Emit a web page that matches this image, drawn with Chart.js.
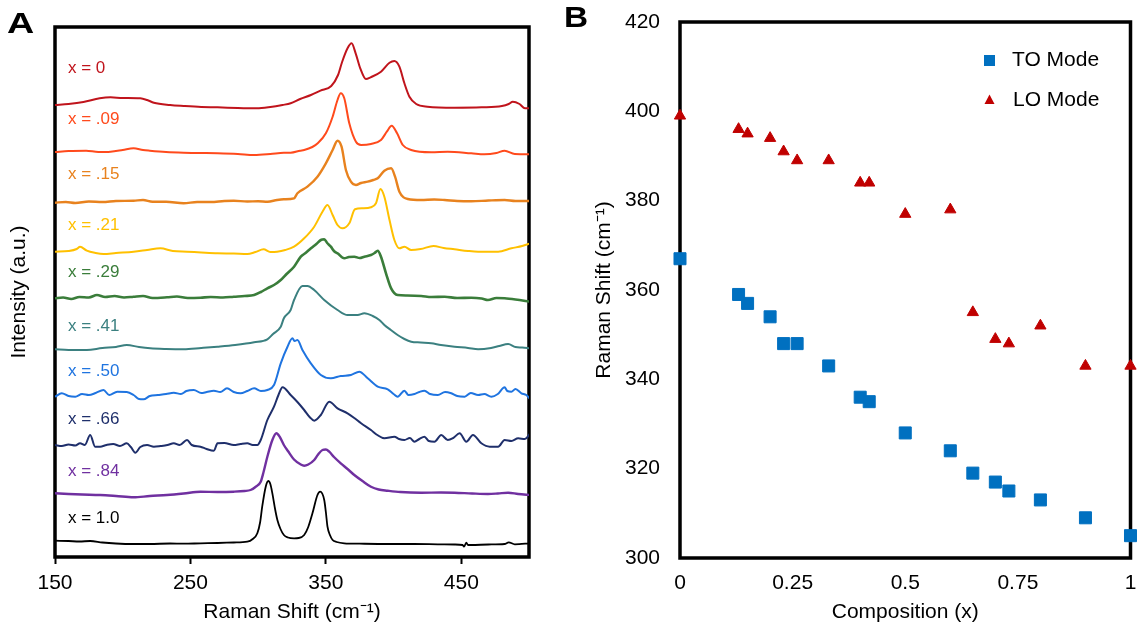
<!DOCTYPE html>
<html lang="en">
<head>
<meta charset="UTF-8">
<title>Raman spectra and phonon mode shifts</title>
<script src="https://cdn.jsdelivr.net/npm/chart.js@4"></script>
<style>
  body { margin: 0; background: #fff; }
  #wrap { position: relative; width: 1140px; height: 629px; }
  #chartA { position: absolute; left: 0; top: 0; }
  #chartB { position: absolute; left: 560px; top: 0; }
</style>
</head>
<body>
<div id="wrap">
  <canvas id="chartA" width="545" height="629"></canvas>
  <canvas id="chartB" width="580" height="629"></canvas>
</div>
<script>
const FONT = "'Liberation Sans', Arial, sans-serif";

// ---- Panel A: stacked Raman spectra, [shift (cm-1), intensity (a.u., offset included)]
const spectrumX0 = [[150,452],[160,453],[171,455],[183,458.7],[191,459.7],[200,459],[213,458.7],[218,457],[223,454.3],[235,452],[245,451],[258,450],[270,449.7],[285,449],[299,448.7],[309,450],[318,452],[324,453.7],[331,458],[339,462],[346,466.3],[354,471],[359,482],[362,495],[366,508.7],[369,513.7],[372,503.7],[375.4,488.7],[379.6,478],[383,479.7],[390.7,485.3],[397,494.3],[400.6,496],[404.3,490.3],[408,473.7],[411.7,460.3],[416.7,453],[425,450.3],[445,449.3],[465,449.7],[480,451],[485,453],[488,455.3],[493,453],[497,448.7],[501,448.7]];
const spectrumX09 = [[150,405],[160,406],[173,406.3],[182,405],[191,405.3],[200,407],[208,408.7],[215,407],[220,406.3],[232,405],[245,404.3],[258,404],[270,403.7],[285,403],[297,402],[309,403],[319,404.3],[324,404.3],[331,406.3],[334,407],[340,410],[344,413.7],[350,423.7],[355,440.3],[358.6,457],[361,463.7],[363.6,458.7],[367.3,433.7],[372.2,415.3],[376,412],[383.3,413],[390.7,417],[395,425.3],[398.6,431.3],[402.6,423.7],[406.8,412],[413,407],[427.8,404.7],[440,405.3],[457.4,403.7],[467,402.7],[476,404],[482,406.3],[489.5,403],[501,402.7]];
const spectrumX15 = [[150,354.3],[158,355],[165,354],[175,355.5],[185,355],[195,356],[208,356.3],[215,357],[222,355.3],[232,355.3],[245,353.7],[255,355],[265,355],[275,356],[282,356.3],[292,355.5],[300,355.8],[307,355.3],[314,357],[319,357.7],[326.5,358.7],[329,363.7],[336.4,370.3],[343.8,380.3],[350,393.7],[355,407],[358.6,416.3],[361.6,410.3],[364.8,387],[368.5,375.3],[372.2,372],[376,374],[380.9,375.3],[385,377],[388.3,378.7],[393.2,386.3],[398.2,388.7],[401.1,380.3],[404.3,365.3],[410.5,358],[420.4,357],[430,357.5],[437.7,357],[447,356],[457.4,355.7],[470,356.5],[482,357],[490,356],[501,356]];
const spectrumX21 = [[150,305.3],[160,306],[166,308],[168.5,310.3],[173.5,306.3],[180,304],[185.8,303],[195,304],[208,305.3],[218,307],[227.8,308.7],[237,306],[247.5,305.3],[258,304.5],[270,303.7],[282,303.5],[292,303],[298,305],[304,307.7],[309,305],[314,305.3],[320,307],[326.5,310.3],[334,318.7],[341.4,330.3],[347.5,345.3],[351.2,352],[355,342],[358.6,332],[362.3,328.7],[367.3,333.7],[371.5,347.7],[377.2,348.7],[383.3,349.7],[387,353.7],[390.3,368],[393.2,360.3],[397,337],[400.6,317],[404.3,308.7],[408,310.3],[413,307],[420,308],[429.5,311],[437,309],[445,307.7],[455,306],[462.4,305.3],[477.2,305.3],[487,308.7],[495,311],[501,313.7]];
const spectrumX29 = [[150,258.7],[156,259.5],[162,258],[168,260],[175,259.5],[181,262],[187,260],[194,261],[201,259.5],[208,260.3],[215,261],[222,259],[232.7,259.7],[240,260.5],[248,259],[257.4,259.3],[265,260],[274,259.5],[282,260.3],[290,261],[297,262],[302,265],[306.8,268.7],[311.7,272],[316.7,277],[321,283],[326.5,290.3],[331.5,300.3],[335,304],[339,308.7],[343,313],[346.3,317],[348.8,317.7],[351,314],[353.7,310.3],[356,306],[358.6,303.7],[363.6,298.7],[367,300],[371,300.3],[375,299],[378.4,300.3],[383.3,302],[386,304],[388.3,306.3],[390.7,300.3],[394.4,283.7],[398.2,268.7],[403,262],[410,261.5],[420.4,261],[428,260],[437.7,260.3],[447,259],[457.4,259.3],[465,258.5],[469.7,257],[476,259],[482,258.7],[490,257.5],[501,255.3]];
const spectrumX41 = [[150,207.7],[160,207],[173.5,207],[185,209],[195,210],[203,212],[212,210],[220.4,208.7],[232,208],[245,207.7],[258,209],[270,210.3],[283,212],[297,214.7],[306.8,217.7],[311,223],[316.7,230.3],[319,238.7],[324,247],[326.5,257],[332.7,271],[336.4,271],[341.4,267],[348.8,257],[358.6,247],[366,242],[371,242],[373.5,242],[378.4,243.7],[384.6,241],[389.5,237],[393.2,232],[398,227],[403,222],[408,218],[413,215.3],[420,214.5],[427.8,213.7],[435,212],[445,210.3],[455,209],[462.4,207.7],[472,209],[478,211],[484.6,213],[490,210],[495,209.5],[501,208.7]];
const spectrumX50 = [[150,160.3],[155,163.7],[160,161],[165,160.3],[170,163],[175,162],[180,164],[185.8,167],[190,162],[196,165.3],[203,165],[208,162],[212,158],[215.4,157.7],[220,161],[226,162],[232,163],[237.7,164.3],[243,163],[247,166],[252.5,167],[258,164],[262,165],[267.3,166.3],[272,165],[277,168.7],[282,165],[287,163.7],[292,166],[297,168.7],[302,166],[306.8,167],[311.7,172],[316.7,193.7],[321.6,210],[325.3,218.7],[327,216],[329,217],[332.7,207],[338.9,193.7],[346.3,182],[353.7,178.7],[361,181],[368.5,182],[374.7,185.3],[380.9,178.7],[388.3,170.3],[395.7,167.7],[400,163],[403,160.3],[408,166.3],[411,162],[415.4,163],[419,165],[422.8,166.3],[427,163],[432.7,162],[438,165],[442.6,163.7],[447,161],[452.5,160.3],[457,164],[462.4,162],[467,163],[472.2,160.3],[477,163],[482,169.7],[484,166],[487,165.3],[490,168],[494.4,163.7],[498,162],[501,157.7]];
const spectrumX66 = [[150,112],[155,111],[160,112.5],[165,111.5],[168.5,113.7],[172,112],[176,122],[179.6,110.3],[183.3,110.3],[188,112],[193,113],[198,111],[203,113.7],[206,110],[209.3,104.3],[213,110],[218,112],[223,110.3],[228,111],[233,112],[237.7,113.7],[242,112],[247.5,117],[251,112],[257.4,110.3],[262,108],[267.3,106.3],[270,113.7],[275,114],[282,112],[287,113],[292,113.7],[296,112],[299.4,112],[301.9,117],[306.8,137],[311.7,150.3],[315,162],[318,169.7],[324,162],[329,155],[334,147],[338,140],[341.4,136.3],[346.3,142],[352.5,155.3],[358.6,148.7],[366,143.7],[371,139],[376,133.7],[383.3,127],[388,122],[393.2,118.7],[400.6,120.3],[404,118],[408,117],[412,119],[415.4,115.3],[419,118],[422.8,120.3],[426,116],[430.2,115.3],[435.2,122],[440,117],[444,119],[448.8,123.7],[453.7,115.3],[458.6,122],[464.8,113.7],[471,110.3],[477.2,110.3],[482,117],[487,116],[492,118.7],[497,118],[501,123.7]];
const spectrumX84 = [[150,63.7],[160,63],[170,62.5],[183.3,62],[195,61],[208,59.7],[220,61],[232.7,62],[245,63.5],[257.4,65.3],[270,65],[282,65.3],[290,66],[294.4,67],[298,70],[301.9,75.3],[304,85],[306.8,100.3],[310.5,117],[313.5,123.7],[316,120],[319,112],[322,106],[326.5,97.5],[331.5,92.5],[334,91.3],[337,92.5],[341.4,97],[344,102],[347.5,107],[350,107.5],[352.5,105.3],[356,100],[361,93.7],[366,88],[371,82],[377,76],[383.3,70.3],[389,67.5],[395.7,66.3],[405,65],[420.4,64.3],[435,64.5],[445,64.3],[458,63.5],[469.7,63],[477,63.5],[484.6,64.3],[492,63],[501,62]];
const spectrumX100 = [[150,16.3],[160,16],[168,15.5],[176,16],[185,14.5],[195,13.5],[208,13],[220,13],[235,13.5],[245,13.3],[257.4,13.7],[270,14],[282,14.5],[292,15.3],[296,18],[299.4,23.7],[301.5,35],[303,50.3],[305.6,70.3],[307.5,76],[309,73],[310.5,63.7],[312.5,48],[314.2,37],[316.5,28],[319,22],[322,19.5],[326.5,18.7],[330,19],[334,22],[337,30],[340.1,43.7],[343.8,62],[345.8,65.3],[348.8,57],[350,45],[351.2,30.3],[353,22],[355,17],[358,15],[363.6,13.7],[375,13.3],[395.7,13],[415,13],[432.7,12.7],[445,12.5],[451,12],[452,10.3],[453.7,14.3],[455,12],[457.4,12],[470,12.5],[482,13],[485,14.7],[489.5,12.7],[501,13.7]];

const spectra = [spectrumX0, spectrumX09, spectrumX15, spectrumX21, spectrumX29,
                 spectrumX41, spectrumX50, spectrumX66, spectrumX84, spectrumX100];
const spectrumLabels = ['x = 0', 'x = .09', 'x = .15', 'x = .21', 'x = .29',
                        'x = .41', 'x = .50', 'x = .66', 'x = .84', 'x = 1.0'];
const shiftTicks = [150, 250, 350, 450];

// ---- Panel B: mode positions vs composition
const compositionTO = [0, 0.13, 0.15, 0.2, 0.23, 0.26, 0.33, 0.4, 0.42, 0.5, 0.6, 0.65, 0.7, 0.73, 0.8, 0.9, 1.0];
const shiftTO = [367, 359, 357, 354, 348, 348, 343, 336, 335, 328, 324, 319, 317, 315, 313, 309, 305];
const compositionLO = [0, 0.13, 0.15, 0.2, 0.23, 0.26, 0.33, 0.4, 0.42, 0.5, 0.6, 0.65, 0.7, 0.73, 0.8, 0.9, 1.0];
const shiftLO = [399, 396, 395, 394, 391, 389, 389, 384, 384, 377, 378, 355, 349, 348, 352, 343, 343];
const compositionTicks = [0, 0.25, 0.5, 0.75, 1];
const compositionTickLabels = ['0', '0.25', '0.5', '0.75', '1'];

// styles
const spectrumColors = ['#C0141C', '#FF4A1C', '#E8821E', '#FFC000', '#3A7D3A',
                        '#3B8080', '#1F74E0', '#1F2F6B', '#7030A0', '#000000'];
const spectrumWidths = [2, 2, 2.4, 2, 2.6, 2, 2, 2, 2.4, 1.8];
const labelLift = [37, 33, 28, 26, 26, 23, 25, 26, 22, 22];   // px above trace start

// fixed axis sizes, no extra side padding from edge labels
function fixSize(w, h) {
  return s => {
    if (w !== null) s.width = w;
    if (h !== null) s.height = h;
    s.paddingLeft = 0; s.paddingRight = 0; s.paddingTop = 0; s.paddingBottom = 0;
  };
}

// thick box round the plot area
const framePlugin = {
  id: 'frame',
  beforeDatasetsDraw(chart, args, opts) {
    const { ctx, chartArea: a } = chart;
    ctx.save();
    ctx.lineWidth = opts.width || 3.5;
    ctx.strokeStyle = '#000';
    ctx.strokeRect(a.left, a.top, a.right - a.left, a.bottom - a.top);
    ctx.restore();
  }
};

// big panel letter (A / B)
const letterPlugin = {
  id: 'letter',
  afterDraw(chart, args, opts) {
    const ctx = chart.ctx;
    ctx.save();
    ctx.translate(opts.x, opts.y);
    ctx.scale(opts.stretch, 1);
    ctx.font = 'bold 29px ' + FONT;
    ctx.fillStyle = '#000';
    ctx.textBaseline = 'alphabetic';
    ctx.fillText(opts.text, 0, 0);
    ctx.restore();
  }
};

// composition labels above each spectrum
const sampleLabelPlugin = {
  id: 'sampleLabels',
  afterDatasetsDraw(chart) {
    const ctx = chart.ctx;
    ctx.save();
    ctx.font = '17px ' + FONT;
    ctx.textBaseline = 'middle';
    ctx.textAlign = 'left';
    chart.data.datasets.forEach((ds, i) => {
      const first = chart.getDatasetMeta(i).data[0];
      ctx.fillStyle = ds.borderColor;
      ctx.fillText(ds.label, 68, first.y - labelLift[i]);
    });
    ctx.restore();
  }
};

// legend inside panel B (top right)
const legendBoxPlugin = {
  id: 'legendBox',
  afterDraw(chart) {
    const ctx = chart.ctx;
    const ds = chart.data.datasets;
    ctx.save();
    ctx.font = '21px ' + FONT;
    ctx.textBaseline = 'middle';
    ctx.fillStyle = ds[0].backgroundColor;
    ctx.fillRect(424, 55, 11, 11);
    ctx.fillStyle = ds[1].backgroundColor;
    ctx.beginPath();
    ctx.moveTo(429.5, 94.5);
    ctx.lineTo(434.5, 104);
    ctx.lineTo(424.5, 104);
    ctx.closePath();
    ctx.fill();
    ctx.fillStyle = '#000';
    ctx.fillText(ds[0].label, 452, 60);
    ctx.fillText(ds[1].label, 453, 100);
    ctx.restore();
  }
};

Chart.defaults.font.family = FONT;
Chart.defaults.color = '#000';

new Chart(document.getElementById('chartA'), {
  type: 'line',
  data: {
    datasets: spectra.map((s, i) => ({
      label: spectrumLabels[i],
      data: s,
      borderColor: spectrumColors[i],
      borderWidth: spectrumWidths[i],
      pointRadius: 0,
      cubicInterpolationMode: 'monotone',
      fill: false
    }))
  },
  options: {
    responsive: false,
    animation: false,
    events: [],
    layout: { padding: { left: 0, top: 27, right: 16, bottom: 0 } },
    scales: {
      x: {
        type: 'linear',
        min: 150,
        max: 500,
        afterBuildTicks: s => { s.ticks = shiftTicks.map(v => ({ value: v })); },
        afterFit: fixSize(null, 72),
        grid: { display: true, drawOnChartArea: false, drawTicks: true, tickLength: 7, tickWidth: 2, tickColor: '#000' },
        border: { display: false },
        ticks: { font: { size: 21 }, padding: 7, maxRotation: 0 },
        title: { display: true, text: 'Raman Shift (cm\u207B\u00B9)', font: { size: 21 }, padding: { top: 0, bottom: 4 } }
      },
      y: {
        min: 0,
        max: 530,
        afterFit: fixSize(55, null),
        grid: { display: false },
        border: { display: false },
        ticks: { display: false },
        title: { display: true, text: 'Intensity (a.u.)', font: { size: 21 }, padding: { top: 7, bottom: 0 } }
      }
    },
    plugins: {
      legend: { display: false },
      tooltip: { enabled: false },
      frame: { width: 3.5 },
      letter: { text: 'A', x: 7, y: 33, stretch: 1.3 }
    }
  },
  plugins: [framePlugin, letterPlugin, sampleLabelPlugin]
});

new Chart(document.getElementById('chartB'), {
  type: 'scatter',
  data: {
    datasets: [
      {
        label: 'TO Mode',
        data: compositionTO.map((x, i) => ({ x: x, y: shiftTO[i] })),
        pointStyle: 'rect',
        pointRadius: 8.5,
        backgroundColor: '#0070C0',
        borderColor: '#0070C0',
        borderWidth: 1,
        clip: false
      },
      {
        label: 'LO Mode',
        data: compositionLO.map((x, i) => ({ x: x, y: shiftLO[i] })),
        pointStyle: 'triangle',
        pointRadius: 6.5,
        backgroundColor: '#C00000',
        borderColor: '#C00000',
        borderWidth: 1,
        clip: false
      }
    ]
  },
  options: {
    responsive: false,
    animation: false,
    events: [],
    layout: { padding: { left: 0, top: 22, right: 2.5, bottom: 0 } },
    scales: {
      x: {
        type: 'linear',
        min: 0,
        max: 1,
        afterBuildTicks: s => { s.ticks = compositionTicks.map(v => ({ value: v })); },
        afterFit: fixSize(null, 71),
        grid: { display: false, drawTicks: false },
        border: { display: false },
        ticks: {
          font: { size: 21 }, padding: 13, maxRotation: 0,
          callback: (v, i) => compositionTickLabels[i]
        },
        title: { display: true, text: 'Composition (x)', font: { size: 21 }, padding: { top: 0, bottom: 4 } }
      },
      y: {
        min: 300,
        max: 420,
        afterFit: fixSize(120, null),
        grid: { display: false, drawTicks: false },
        border: { display: false },
        ticks: { stepSize: 20, font: { size: 21 }, padding: 20 },
        title: { display: true, text: 'Raman Shift (cm\u207B\u00B9)', font: { size: 21 }, padding: { top: 32, bottom: 0 } }
      }
    },
    plugins: {
      legend: { display: false },
      tooltip: { enabled: false },
      frame: { width: 3.5 },
      letter: { text: 'B', x: 4, y: 27, stretch: 1.15 }
    }
  },
  plugins: [framePlugin, letterPlugin, legendBoxPlugin]
});
</script>
</body>
</html>
